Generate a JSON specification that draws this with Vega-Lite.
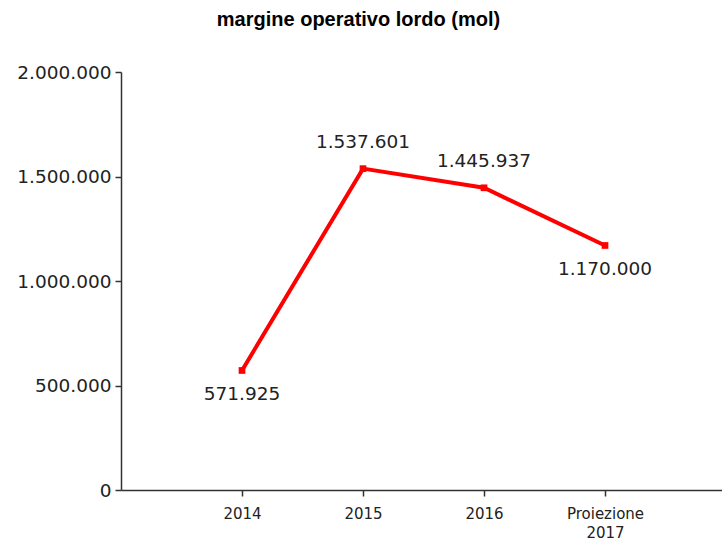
{
  "$schema": "https://vega.github.io/schema/vega-lite/v6.json",
  "autosize": {"type": "none"},
  "width": 601,
  "height": 418,
  "padding": {"left": 121, "top": 72, "right": 0, "bottom": 52},
  "background": "white",
  "config": {
    "locale": {"number": {"decimal": ",", "thousands": ".", "grouping": [3], "currency": ["€", ""]}},
    "view": {"stroke": null}
  },
  "title": {
    "text": "margine operativo lordo (mol)",
    "font": "Liberation Sans",
    "fontSize": 20,
    "fontWeight": "bold",
    "color": "#000000",
    "anchor": "middle",
    "dx": -63,
    "offset": 33
  },
  "data": {
    "values": [
      {"anno": "2014", "mol": 571925},
      {"anno": "2015", "mol": 1537601},
      {"anno": "2016", "mol": 1445937},
      {"anno": "Proiezione 2017", "mol": 1170000}
    ]
  },
  "encoding": {
    "x": {
      "field": "anno",
      "type": "ordinal",
      "sort": null,
      "scale": {"type": "point", "padding": 1, "range": [0, 605]},
      "axis": {
        "title": null,
        "labelAngle": 0,
        "labelFont": "DejaVu Sans",
        "labelFontSize": 15,
        "labelLineHeight": 19,
        "labelColor": "#222222",
        "labelPadding": 10,
        "labelExpr": "datum.label == 'Proiezione 2017' ? ['Proiezione', '2017'] : datum.label",
        "domainColor": "#333333",
        "domainWidth": 1.5,
        "tickColor": "#333333",
        "tickWidth": 1.5,
        "tickSize": 6,
        "grid": false
      }
    },
    "y": {
      "field": "mol",
      "type": "quantitative",
      "scale": {"domain": [0, 2000000], "nice": false},
      "axis": {
        "title": null,
        "values": [0, 500000, 1000000, 1500000, 2000000],
        "labelExpr": "format(datum.value, ',.0f')",
        "labelFont": "DejaVu Sans",
        "labelFontSize": 18.5,
        "labelColor": "#222222",
        "labelPadding": 4,
        "domainColor": "#333333",
        "domainWidth": 1.5,
        "tickColor": "#333333",
        "tickWidth": 1.5,
        "tickSize": 6,
        "grid": false
      }
    }
  },
  "layer": [
    {"mark": {"type": "line", "color": "#ff0000", "strokeWidth": 4}},
    {"mark": {"type": "point", "shape": "square", "filled": true, "color": "#ff0000", "opacity": 1, "size": 45}},
    {
      "transform": [{"filter": "datum.anno == '2015' || datum.anno == '2016'"}],
      "mark": {"type": "text", "font": "DejaVu Sans", "fontSize": 18.5, "color": "#222222", "baseline": "middle", "dy": -27},
      "encoding": {"text": {"field": "mol", "type": "quantitative", "format": ",.0f"}}
    },
    {
      "transform": [{"filter": "datum.anno == '2014' || datum.anno == 'Proiezione 2017'"}],
      "mark": {"type": "text", "font": "DejaVu Sans", "fontSize": 18.5, "color": "#222222", "baseline": "middle", "dy": 24},
      "encoding": {"text": {"field": "mol", "type": "quantitative", "format": ",.0f"}}
    }
  ]
}
